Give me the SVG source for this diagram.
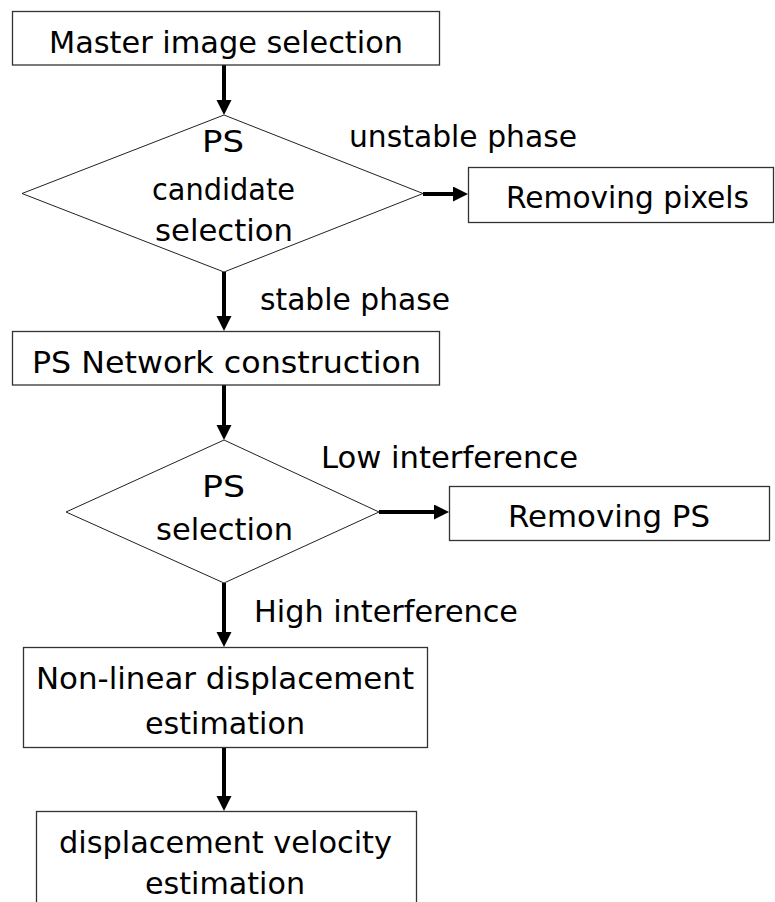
<svg xmlns="http://www.w3.org/2000/svg" width="775" height="902" viewBox="0 0 775 902">
<style>
.box{fill:#fff;stroke:#333;stroke-width:1.3}
.dia{fill:#fff;stroke:#222;stroke-width:1}
.t{font-family:"DejaVu Sans","Liberation Sans",sans-serif;font-size:30px;fill:#000}
.arr{stroke:#000;stroke-width:4;fill:none;marker-end:url(#ah)}
</style>
<defs>
<marker id="ah" markerUnits="userSpaceOnUse" markerWidth="16" markerHeight="16" refX="3" refY="7.5" orient="auto">
<path d="M0,0 L15,7.5 L0,15 Z" fill="#000"/>
</marker>
</defs>
<rect width="775" height="902" fill="#fff"/>
<g id="connectors">
<line class="arr" x1="224" y1="65" x2="224" y2="103"/>
<line class="arr" x1="423" y1="194" x2="456" y2="194"/>
<line class="arr" x1="224" y1="272" x2="224" y2="319"/>
<line class="arr" x1="224" y1="385" x2="224" y2="428"/>
<line class="arr" x1="379" y1="512" x2="437" y2="512"/>
<line class="arr" x1="224" y1="583" x2="224" y2="635"/>
<line class="arr" x1="224" y1="748" x2="224" y2="799"/>
<text class="t" x="349" y="147" textLength="228" lengthAdjust="spacingAndGlyphs">unstable phase</text>
<text class="t" x="260" y="310" textLength="190" lengthAdjust="spacingAndGlyphs">stable phase</text>
<text class="t" x="321" y="468" textLength="257" lengthAdjust="spacingAndGlyphs">Low interference</text>
<text class="t" x="254" y="622" textLength="264" lengthAdjust="spacingAndGlyphs">High interference</text>
</g>
<g id="master">
<rect class="box" x="12.5" y="11.5" width="427" height="53.5"/>
<text class="t" x="49" y="53" textLength="354" lengthAdjust="spacingAndGlyphs" style="font-size:31px">Master image selection</text>
</g>
<g id="candidate">
<polygon class="dia" points="224,115 423,193.5 224,272 22,193.5"/>
<text class="t" x="202" y="152" textLength="42" lengthAdjust="spacingAndGlyphs">PS</text>
<text class="t" x="152" y="200" textLength="143" lengthAdjust="spacingAndGlyphs">candidate</text>
<text class="t" x="155" y="241" textLength="138" lengthAdjust="spacingAndGlyphs">selection</text>
</g>
<g id="removepixels">
<rect class="box" x="468.5" y="167.5" width="305" height="55"/>
<text class="t" x="506" y="208" textLength="243" lengthAdjust="spacingAndGlyphs">Removing pixels</text>
</g>
<g id="network">
<rect class="box" x="12.5" y="331.5" width="427" height="53.5"/>
<text class="t" x="32" y="373" textLength="389" lengthAdjust="spacingAndGlyphs">PS Network construction</text>
</g>
<g id="psselection">
<polygon class="dia" points="224,440 379,512 224,583 66,512"/>
<text class="t" x="202" y="497" textLength="43" lengthAdjust="spacingAndGlyphs">PS</text>
<text class="t" x="156" y="540" textLength="137" lengthAdjust="spacingAndGlyphs">selection</text>
</g>
<g id="removeps">
<rect class="box" x="449.5" y="486.5" width="320" height="54"/>
<text class="t" x="508" y="527" textLength="202" lengthAdjust="spacingAndGlyphs">Removing PS</text>
</g>
<g id="nonlinear">
<rect class="box" x="23.5" y="647.5" width="404" height="100"/>
<text class="t" x="36" y="689" textLength="378" lengthAdjust="spacingAndGlyphs">Non-linear displacement</text>
<text class="t" x="145" y="734" textLength="160" lengthAdjust="spacingAndGlyphs">estimation</text>
</g>
<g id="velocity">
<rect class="box" x="36.5" y="811.5" width="380" height="120"/>
<text class="t" x="59" y="853" textLength="333" lengthAdjust="spacingAndGlyphs">displacement velocity</text>
<text class="t" x="145" y="894" textLength="160" lengthAdjust="spacingAndGlyphs">estimation</text>
</g>
</svg>
